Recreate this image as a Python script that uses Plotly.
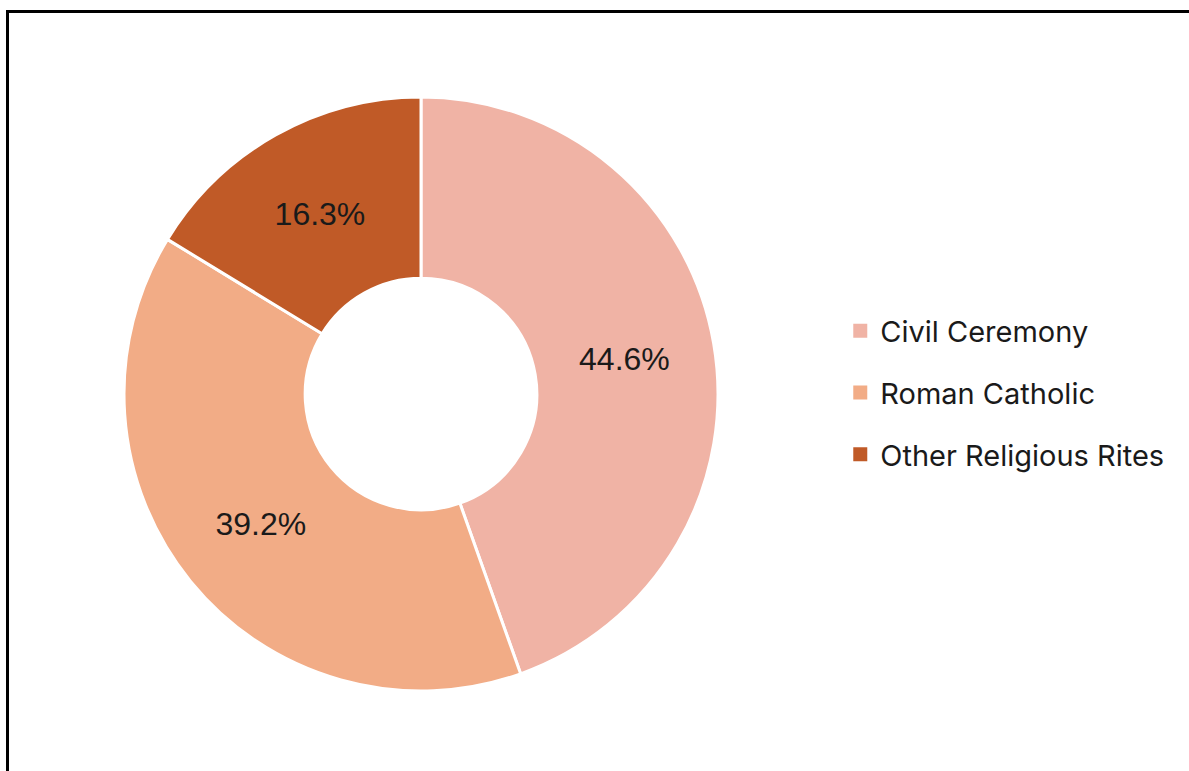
import plotly.graph_objects as go

labels = ["Civil Ceremony", "Roman Catholic", "Other Religious Rites"]
values = [44.6, 39.2, 16.3]
colors = ["#F0B3A5", "#F2AC86", "#C05A27"]

W, H = 1189, 771

fig = go.Figure()
fig.add_trace(go.Pie(
    labels=labels,
    values=values,
    hole=0.39,
    sort=False,
    direction="clockwise",
    rotation=0,
    marker=dict(colors=colors, line=dict(color="white", width=3)),
    texttemplate="%{value:.1f}%",
    textposition="inside",
    insidetextorientation="horizontal",
    textfont=dict(family="Liberation Sans", size=32, color="#1a1a1a"),
    domain=dict(x=[124 / W, 718 / W], y=[(H - 691) / H, (H - 97) / H]),
    showlegend=False,
    hoverinfo="label+percent",
))

# legend entries (one group each for row spacing)
for i, (lab, col) in enumerate(zip(labels, colors)):
    fig.add_trace(go.Scatter(
        x=[None], y=[None], mode="markers", name=lab,
        marker=dict(symbol="square", size=14, color=col),
        legendgroup=f"g{i}", showlegend=True,
    ))

fig.update_layout(
    width=W, height=H,
    margin=dict(l=0, r=0, t=0, b=0),
    paper_bgcolor="white",
    plot_bgcolor="white",
    xaxis=dict(visible=False),
    yaxis=dict(visible=False),
    legend=dict(
        x=0.7067, y=(H - 393) / H, xanchor="left", yanchor="middle",
        font=dict(family="Inter", size=29, color="#1a1a1a"),
        traceorder="grouped", tracegroupgap=21,
        bgcolor="rgba(0,0,0,0)",
    ),
    shapes=[dict(
        type="rect", xref="paper", yref="paper",
        x0=7.5 / W, x1=1.2, y0=-0.2, y1=(H - 11.5) / H,
        line=dict(color="black", width=3),
    )],
)

fig.write_html(
    "out.html",
    config={"displayModeBar": False},
    post_script="document.body.style.margin='0';",
)
